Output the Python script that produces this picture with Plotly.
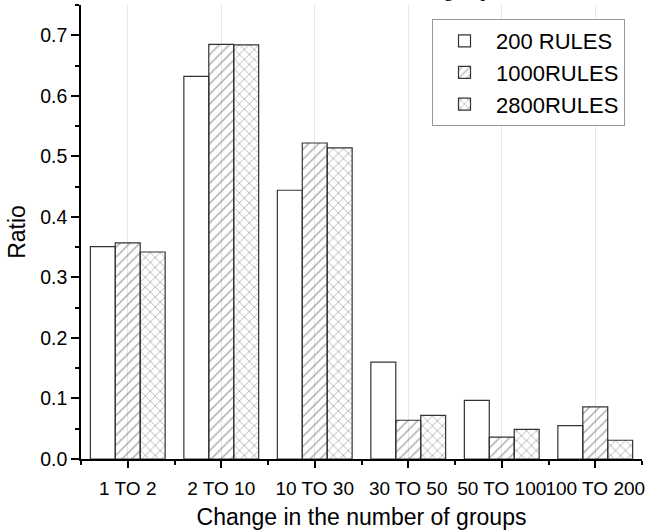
import plotly.graph_objects as go

categories = ["1 TO 2", "2 TO 10", "10 TO 30", "30 TO 50", "50 TO 100", "100 TO 200"]
series_names = ["200 RULES", "1000RULES", "2800RULES"]
rules_200 = [0.351, 0.632, 0.444, 0.160, 0.097, 0.055]
rules_1000 = [0.357, 0.685, 0.522, 0.064, 0.036, 0.086]
rules_2800 = [0.342, 0.684, 0.514, 0.072, 0.049, 0.031]
y_ticks = [0.0, 0.1, 0.2, 0.3, 0.4, 0.5, 0.6, 0.7]

x_pos = list(range(len(categories)))
font_family = "Liberation Sans, Arial, sans-serif"

fig = go.Figure()
styles = [
    dict(color="white", pattern=None),
    dict(color="rgba(255,255,255,0)", pattern=dict(shape="/", fgcolor="#444", size=7, solidity=0.18)),
    dict(color="rgba(255,255,255,0)", pattern=dict(shape="x", fgcolor="#444", size=7, solidity=0.2)),
]
for name, vals, st in zip(series_names, [rules_200, rules_1000, rules_2800], styles):
    marker = dict(color=st["color"], line=dict(color="#333", width=1.2))
    if st["pattern"]:
        marker["pattern"] = st["pattern"]
    fig.add_trace(go.Bar(x=x_pos, y=vals, name=name, marker=marker))

fig.update_layout(
    width=646, height=530,
    margin=dict(l=81, r=4, t=5, b=71),
    paper_bgcolor="white", plot_bgcolor="white",
    barmode="group", bargap=0.2, bargroupgap=0,
    font=dict(family=font_family, color="black"),
    legend=dict(
        x=0.6257, y=0.969, xanchor="left", yanchor="top",
        bordercolor="#999", borderwidth=1, bgcolor="white",
        font=dict(size=22, family=font_family), tracegroupgap=0,
        itemwidth=53,
    ),
    showlegend=True,
)
fig.update_xaxes(
    range=[-0.5, 5.5], tickmode="array", tickvals=x_pos, ticktext=categories,
    showline=True, linecolor="black", linewidth=1.5,
    ticks="outside", ticklen=7, tickwidth=1.5, tickcolor="black",
    minor=dict(tickmode="linear", tick0=0.5, dtick=1, ticks="outside", ticklen=4, tickwidth=1.5, tickcolor="black", showgrid=False),
    showgrid=True, gridcolor="#e6e6e6", gridwidth=1,
    tickfont=dict(size=19), tickangle=0, zeroline=False, automargin=False,
    ticklabeloverflow="allow", ticklabelstandoff=4,
    title=dict(text="Change in the number of groups", font=dict(size=23), standoff=11),
)
fig.update_yaxes(
    range=[0, 0.75], tickmode="array", tickvals=y_ticks, ticktext=[f"{v:.1f}" for v in y_ticks],
    showline=True, linecolor="black", linewidth=1.5,
    ticks="outside", ticklen=8, tickwidth=1.5, tickcolor="black",
    minor=dict(tickmode="linear", tick0=0.05, dtick=0.1, ticks="outside", ticklen=4, tickwidth=1.5, tickcolor="black", showgrid=False),
    showgrid=False, zeroline=False, automargin=False,
    tickfont=dict(size=19.5),
    title=dict(text="Ratio", font=dict(size=23), standoff=8),
)
fig.add_annotation(
    text="between two levels of the abstract groups.",
    xref="paper", yref="paper", x=0.756, y=1.004, xanchor="right", yanchor="bottom",
    showarrow=False, font=dict(family="Liberation Serif, Times New Roman, serif", size=20, color="black"),
)

fig.write_html("out.html", config={"displayModeBar": False},
               post_script="document.body.style.margin='0';")
